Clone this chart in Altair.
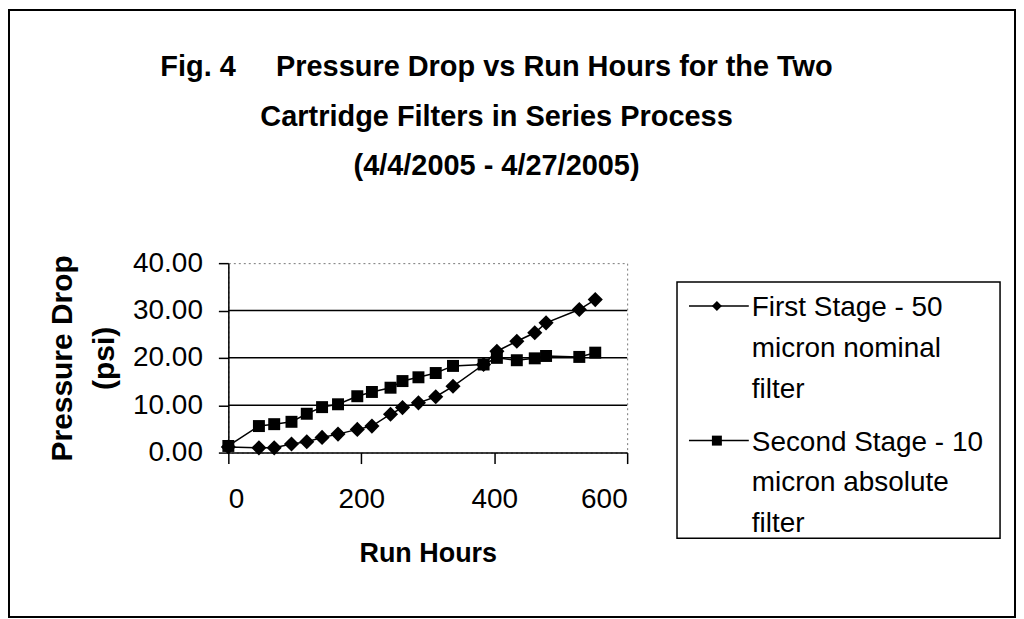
import altair as alt
import pandas as pd

# ---- data ----
run_hours = [0, 46, 69, 95, 118, 141, 165, 194, 216, 244, 262, 286, 312, 338, 384, 404, 434, 461, 478, 528, 552]
first_stage = [1.2, 1.0, 1.0, 1.8, 2.3, 3.2, 3.9, 4.9, 5.6, 8.1, 9.5, 10.5, 11.8, 14.0, 18.6, 21.4, 23.5, 25.3, 27.4, 30.2, 32.3]
second_stage = [1.4, 5.6, 6.0, 6.5, 8.2, 9.6, 10.2, 11.9, 12.8, 13.7, 15.1, 15.9, 16.8, 18.3, 18.6, 20.0, 19.5, 19.9, 20.4, 20.2, 21.1]
series_names = ["First Stage - 50 micron nominal filter", "Second Stage - 10 micron absolute filter"]
legend_lines = [["First Stage - 50", "micron nominal", "filter"],
                ["Second Stage - 10", "micron absolute", "filter"]]
series_shapes = ["diamond", "square"]
series_sizes = [230, 144]
grid_values = [10, 20, 30]
x_ticks = [0, 200, 400, 600]
y_ticks = [0, 10, 20, 30, 40]
title_lines = ["Fig. 4\u00a0\u00a0\u00a0\u00a0 Pressure Drop vs Run Hours for the Two",
               "Cartridge Filters in Series Process",
               "(4/4/2005 - 4/27/2005)"]

rows = []
for name, vals in zip(series_names, [first_stage, second_stage]):
    for h, v in zip(run_hours, vals):
        rows.append({"hours": h, "value": v, "series": name})
df = pd.DataFrame(rows)

FONT = "Liberation Sans"
W, H = 400, 190

x_enc = alt.X("hours:Q", scale=alt.Scale(domain=[0, 600], nice=False),
              axis=alt.Axis(values=x_ticks, title="Run Hours", grid=False,
                            domainColor="black", domainWidth=1.5, tickColor="black",
                            tickWidth=1.5, tickSize=11, labelPadding=22,
                            labelFont=FONT, labelFontSize=28, labelColor="black",
                            titleFont=FONT, titleFontSize=27, titleFontWeight="bold",
                            titleColor="black", titlePadding=27))
y_enc = alt.Y("value:Q", scale=alt.Scale(domain=[0, 40], nice=False),
              axis=alt.Axis(values=y_ticks, format=".2f", title=["Pressure Drop", "(psi)"],
                            grid=False, domainColor="black", domainWidth=1.5,
                            tickColor="black", tickWidth=1.5, tickSize=10, labelPadding=16,
                            labelFont=FONT, labelFontSize=28, labelColor="black",
                            titleFont=FONT, titleFontSize=30, titleFontWeight="bold",
                            titleColor="black", titleLineHeight=42, titlePadding=13))

one = pd.DataFrame({"k": [0]})

frame = alt.Chart(one).mark_rect(fill="white", fillOpacity=0, stroke="black", strokeWidth=2).encode(
    x=alt.value(-220), x2=alt.value(789), y=alt.value(-254), y2=alt.value(355))

grid = alt.Chart(pd.DataFrame({"g": grid_values})).mark_rule(color="black", strokeWidth=1.5).encode(
    y=alt.Y("g:Q", scale=alt.Scale(domain=[0, 40], nice=False)))

lines = alt.Chart(df).mark_line(color="black", strokeWidth=1.5).encode(
    x=x_enc, y=y_enc, detail="series:N")

points = alt.Chart(df).mark_point(filled=True, color="black", opacity=1).encode(
    x="hours:Q", y="value:Q",
    shape=alt.Shape("series:N", scale=alt.Scale(domain=series_names, range=series_shapes), legend=None),
    size=alt.Size("series:N", scale=alt.Scale(domain=series_names, range=series_sizes), legend=None))

titles = alt.Chart(one).mark_text(text=title_lines, font=FONT, fontSize=29, fontWeight="bold",
                                  align="center", baseline="alphabetic", lineHeight=50,
                                  color="black").encode(x=alt.value(269), y=alt.value(-188))

legend_box = alt.Chart(one).mark_rect(fill="white", stroke="black", strokeWidth=1.5).encode(
    x=alt.value(450), x2=alt.value(774), y=alt.value(19), y2=alt.value(276))

legend_layers = [legend_box]
for i, (lab, shp) in enumerate(zip(legend_lines, series_shapes)):
    yy = 43 + 135 * i
    legend_layers.append(alt.Chart(one).mark_rule(color="black", strokeWidth=1.5).encode(
        x=alt.value(462), x2=alt.value(522), y=alt.value(yy)))
    legend_layers.append(alt.Chart(one).mark_point(filled=True, color="black", opacity=1,
                                                   shape=shp, size=100).encode(
        x=alt.value(490), y=alt.value(yy)))
    legend_layers.append(alt.Chart(one).mark_text(text=lab, font=FONT, fontSize=28, align="left",
                                                  baseline="alphabetic", lineHeight=41,
                                                  color="black").encode(
        x=alt.value(525), y=alt.value(yy + 10)))

chart = alt.layer(frame, grid, lines, points, titles, *legend_layers).properties(
    width=W, height=H, padding=0, background="white"
).configure_view(stroke="#777", strokeDash=[2, 3], strokeWidth=1)

chart.save("out.html", embed_options={"renderer": "svg", "actions": False})
